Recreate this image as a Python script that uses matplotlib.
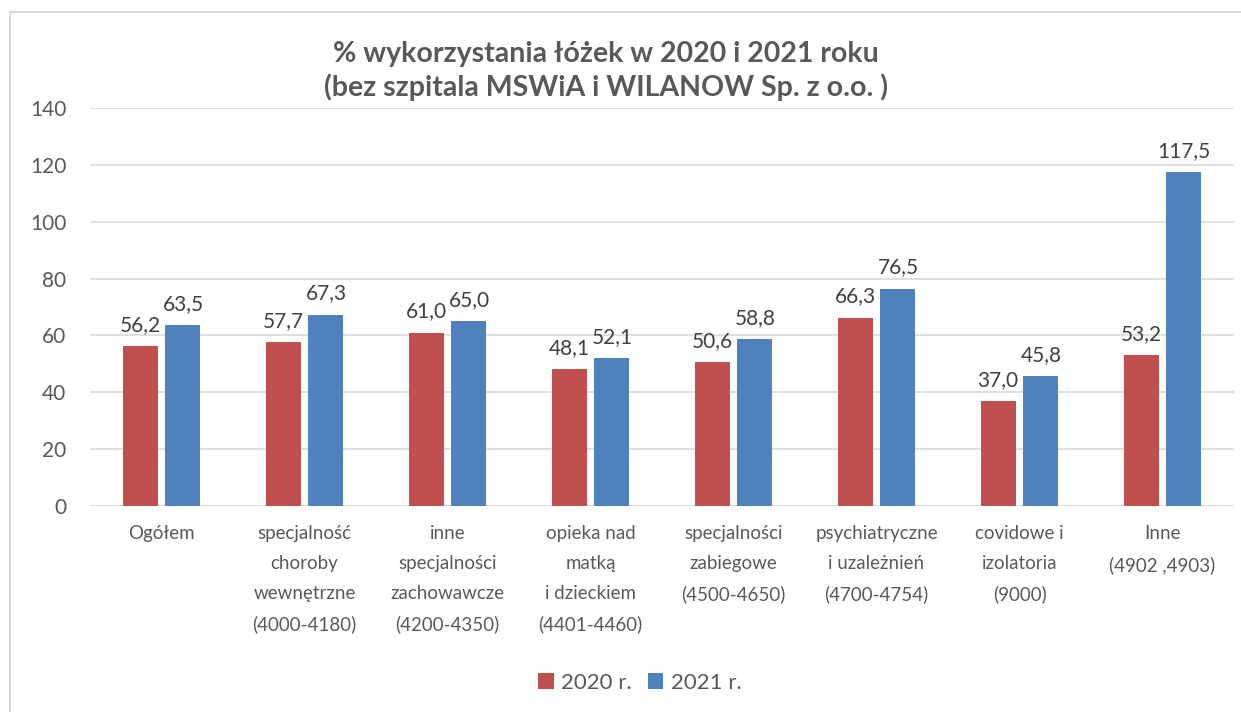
import numpy as np
import matplotlib.pyplot as plt
from matplotlib.patches import Rectangle

plt.rcParams['font.family'] = ['Lato', 'DejaVu Sans']

categories = ["Ogółem",
              "specjalność\nchoroby\nwewnętrzne\n(4000-4180)",
              "inne\nspecjalności\nzachowawcze\n(4200-4350)",
              "opieka nad\nmatką\ni dzieckiem\n(4401-4460)",
              "specjalności\nzabiegowe\n(4500-4650)",
              "psychiatryczne\ni uzależnień\n(4700-4754)",
              "covidowe i\nizolatoria\n(9000)",
              "Inne\n(4902 ,4903)"]
v2020 = [56.2, 57.7, 61.0, 48.1, 50.6, 66.3, 37.0, 53.2]
v2021 = [63.5, 67.3, 65.0, 52.1, 58.8, 76.5, 45.8, 117.5]

red = "#C0504D"
blue = "#4F81BD"
txt = "#595959"

fig = plt.figure(figsize=(12.41, 7.12), dpi=100)
fig.patches.append(Rectangle((10/1241, -0.1), 1.2, 1 - 12/712 + 0.1, transform=fig.transFigure,
                             fill=False, edgecolor="#D9D9D9", linewidth=1.5))
ax = fig.add_axes([90/1241, 1 - 506/712, (1234 - 90)/1241, (506 - 108)/712])

x = np.arange(len(categories))
w = 0.245
b1 = ax.bar(x - 0.15, v2020, w, color=red, label="2020 r.", zorder=3)
b2 = ax.bar(x + 0.15, v2021, w, color=blue, label="2021 r.", zorder=3)

for bars in (b1, b2):
    for r in bars:
        h = r.get_height()
        ax.annotate(f"{h:.1f}".replace(".", ","), (r.get_x() + r.get_width()/2, h),
                    xytext=(0, 8), textcoords="offset points", ha="center", va="bottom",
                    fontsize=15, color="#404040")

ax.set_ylim(0, 140)
ax.set_yticks(range(0, 141, 20))
ax.set_xlim(-0.5, len(categories) - 0.5)
ax.set_xticks(x)
ax.set_xticklabels(categories, fontsize=13.5, color=txt, linespacing=1.9)
ax.tick_params(axis='y', labelsize=15, labelcolor=txt, length=0, pad=17)
ax.tick_params(axis='x', length=0, pad=14)
ax.grid(axis='y', color="#D9D9D9", linewidth=1.2, zorder=0)
for s in ax.spines.values():
    s.set_visible(False)
ax.axhline(0, color="#D9D9D9", linewidth=1.2, zorder=1)

fig.text(606/1241, 1 - 71/712, "% wykorzystania łóżek w 2020 i 2021 roku\n(bez szpitala MSWiA i WILANOW Sp. z o.o. )",
         ha="center", va="center", fontsize=20.5, fontweight="bold", color=txt, linespacing=1.3)

fig.legend(loc="center", bbox_to_anchor=(640/1241, 1 - 683/712), ncol=2, frameon=False,
           fontsize=16, labelcolor=txt, handlelength=0.7, handleheight=0.7,
           handletextpad=0.35, columnspacing=0.7)

fig.savefig("out.png", dpi=100)
